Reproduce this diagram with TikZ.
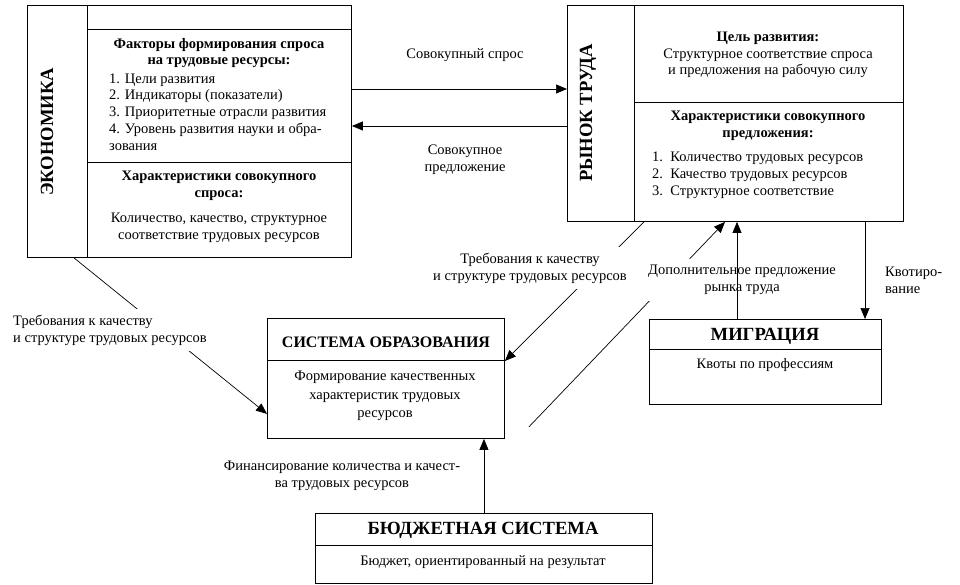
\documentclass[tikz,border=0pt]{standalone}
\usepackage{fontspec}
\setmainfont{Liberation Serif}
\usetikzlibrary{arrows.meta,calc}

\begin{document}
\begin{tikzpicture}[x=1pt,y=-1pt,
  box/.style={draw,line width=0.9pt,inner sep=0pt,anchor=north west},
  rule/.style={line width=0.9pt},
  wire/.style={line width=0.7pt},
  arr/.style={wire,-{Triangle[length=11pt,width=9pt]}},
  txt/.style={font=\fontsize{14.5}{16.8}\selectfont,align=center,inner sep=1pt},
  head/.style={txt,font=\fontsize{14.5}{16.8}\selectfont\bfseries},
  bigtitle/.style={font=\fontsize{18.6}{20}\selectfont\bfseries,inner sep=0pt},
  gap/.style={txt,fill=white,inner xsep=3pt,inner ysep=6pt}]
\useasboundingbox (0,0) rectangle (960,585);
% Drawing boxes
\node[box,minimum width=324pt,minimum height=252pt] (econ) at (27,5) {};
\node[box,minimum width=336pt,minimum height=216pt] (market) at (567,5) {};
\node[box,minimum width=237pt,minimum height=120pt] (edu) at (267,318) {};
\node[box,minimum width=232pt,minimum height=85pt] (migr) at (649,319) {};
\node[box,minimum width=337pt,minimum height=70pt] (budget) at (315,513) {};
% Box dividers
\draw[rule] ($(econ.north west)+(60,0)$) -- ($(econ.south west)+(60,0)$);
\draw[rule] ($(econ.north west)+(60,24)$) -- ($(econ.north east)+(0,24)$);
\draw[rule] ($(econ.north west)+(60,157)$) -- ($(econ.north east)+(0,157)$);
\draw[rule] ($(market.north west)+(67,0)$) -- ($(market.south west)+(67,0)$);
\draw[rule] ($(market.north west)+(67,97)$) -- ($(market.north east)+(0,97)$);
\draw[rule] ($(edu.north west)+(0,42)$) -- ($(edu.north east)+(0,42)$);
\draw[rule] ($(migr.north west)+(0,30)$) -- ($(migr.north east)+(0,30)$);
\draw[rule] ($(budget.north west)+(0,32)$) -- ($(budget.north east)+(0,32)$);
% Done with boxes; drawing box texts
% Economy
\node[bigtitle,rotate=90] (econtitle) at (47,132) {ЭКОНОМИКА};
\node[head] (econfactors) at (219,53) {Факторы формирования спроса\\на трудовые ресурсы:};
\node[txt,align=left,anchor=west] (econlist) at (108,112) {1. Цели развития\\2. Индикаторы (показатели)\\3. Приоритетные отрасли развития\\4. Уровень развития науки и обра-\\зования};
\node[head] (econchar) at (219,186) {Характеристики совокупного\\спроса:};
\node[txt] (econqual) at (219,228) {Количество, качество, структурное\\соответствие трудовых ресурсов};
% Labour market
\node[bigtitle,rotate=90] (markettitle) at (588,113) {РЫНОК ТРУДА};
\node[txt] (marketgoal) at (768,55) {\bfseries Цель развития:\\Структурное соответствие спроса\\и предложения на рабочую силу};
\node[head] (marketchar) at (768,126) {Характеристики совокупного\\предложения:};
\node[txt,align=left,anchor=west] (marketlist) at (651,175) {1.\ \ Количество трудовых ресурсов\\2.\ \ Качество трудовых ресурсов\\3.\ \ Структурное соответствие};
% Education, migration, budget
\node[bigtitle,font=\fontsize{16}{18}\selectfont\bfseries] (edutitle) at (386,342) {СИСТЕМА ОБРАЗОВАНИЯ};
\node[txt,font=\fontsize{14.5}{18.4}\selectfont] (edutext) at (385,396) {Формирование качественных\\характеристик трудовых\\ресурсов};
\node[bigtitle] (migrtitle) at (765,336) {МИГРАЦИЯ};
\node[txt] (migrtext) at (765,365) {Квоты по профессиям};
\node[bigtitle] (budgettitle) at (483,530) {БЮДЖЕТНАЯ СИСТЕМА};
\node[txt] (budgettext) at (483,562) {Бюджет, ориентированный на результат};
% Done with box texts; drawing arrows
\coordinate (spros) at (0,89);
\coordinate (predl) at (0,126);
\draw[arr] (econ.east |- spros) -- (market.west |- spros);
\draw[arr] (market.west |- predl) -- (econ.east |- predl);
\node[txt] (lblspros) at (465,55) {Совокупный спрос};
\node[txt] (lblpredl) at (465,160) {Совокупное\\предложение};
% Economy -> education
\coordinate (econreq) at ($(econ.south west)+(47,0)$);
\coordinate (eduside) at ($(edu.south west)+(0,-25)$);
\draw[arr] (econreq) -- (eduside);
\node[gap,align=left,anchor=west] (lblreqleft) at (10,330) {Требования к качеству\\и структуре трудовых ресурсов};
% Labour market -> education
\coordinate (marketreq) at ($(market.south west)+(77,0)$);
\coordinate (edutop) at ($(edu.north east)+(0,43)$);
\draw[arr] (marketreq) -- (edutop);
\node[gap] (lblreqright) at (530,268) {Требования к качеству\\и структуре трудовых ресурсов};
% Education -> labour market
\coordinate (eduout) at ($(edu.south east)+(24,-12)$);
\coordinate (marketin) at ($(market.south west)+(158,0)$);
\draw[arr] (eduout) -- (marketin);
\node[gap] (lbladd) at (742,280) {Дополнительное предложение\\рынка труда};
% Migration <-> labour market
\coordinate (migrout) at ($(migr.north west)+(88,0)$);
\draw[arr] (migrout) -- (migrout |- market.south);
\coordinate (migrin) at ($(migr.north west)+(216,0)$);
\draw[arr] (migrin |- market.south) -- (migrin);
\node[txt,align=left,anchor=west] (lblquota) at (884,280) {Квотиро-\\вание};
% Budget -> education
\draw[arr] (budget.north) -- (budget.north |- edu.south);
\node[txt] (lblfin) at (342,476) {Финансирование количества и качест-\\ва трудовых ресурсов};
% Done with arrows
\end{tikzpicture}
\end{document}
